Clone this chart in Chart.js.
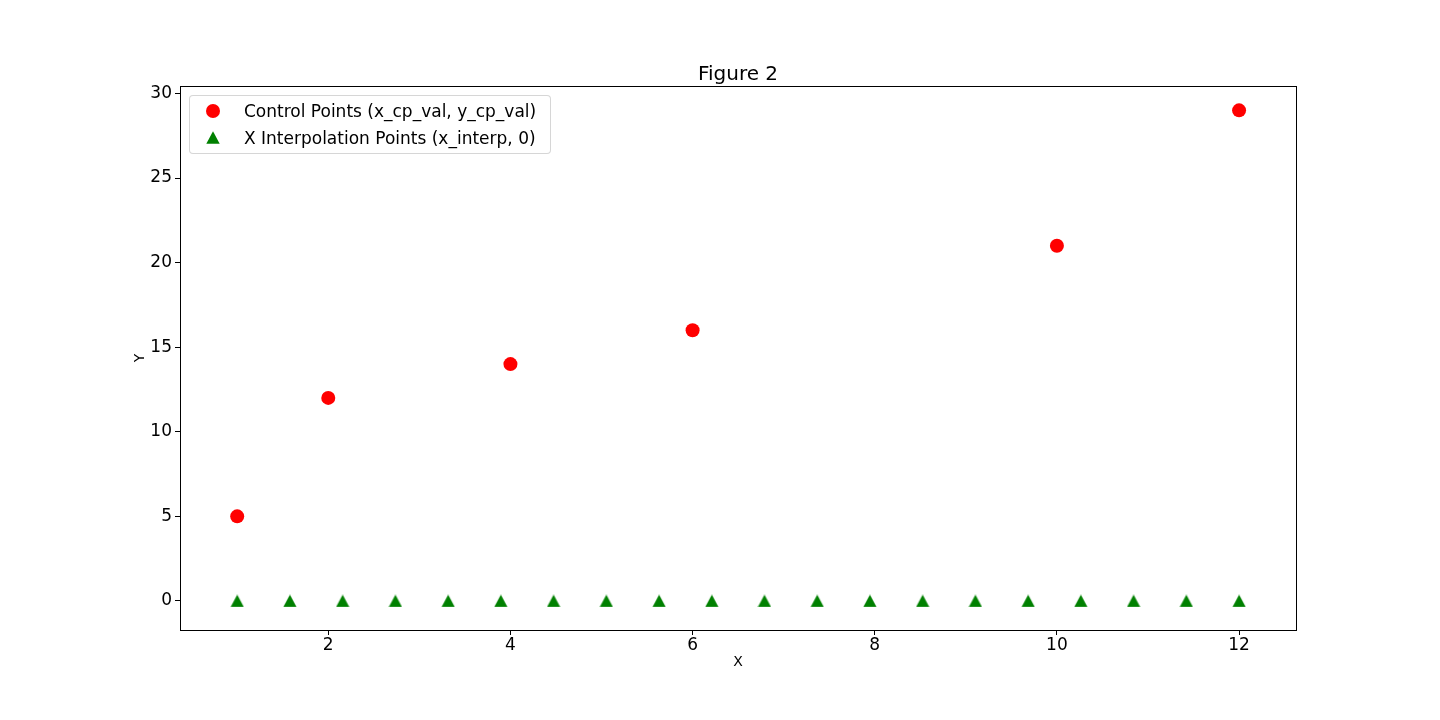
<!doctype html>
<html lang="en">
<head>
<meta charset="UTF-8">
<title>Figure 2</title>
<script src="https://cdn.jsdelivr.net/npm/chart.js@4/dist/chart.umd.min.js"></script>
<style>
	body { margin: 0; background: #fff; font-family: "DejaVu Sans", sans-serif; }
	#holder { position: relative; width: 1440px; height: 720px; }
	#legend { position: absolute; left: 189px; top: 95px; width: 360px; height: 57px;
		border: 1px solid rgba(204,204,204,0.8); border-radius: 4px; background: rgba(255,255,255,0.8); }
	.lg-row { position: absolute; left: 0; height: 24px; line-height: 24px; font-size: 17px; color: #000; white-space: nowrap; }
	.lg-mark { position: absolute; left: 16px; top: 4px; width: 14px; height: 14px; }
	.lg-text { position: absolute; left: 54px; top: -1px; }
</style>
</head>
<body>
<div id="holder">
	<canvas id="chart-area" width="1440" height="720"></canvas>
	<div id="legend"></div>
</div>
<script>
// data
var cpX = [1, 2, 4, 6, 10, 12];
var cpY = [5, 12, 14, 16, 21, 29];
var interpX = [1, 1.579, 2.158, 2.737, 3.316, 3.895, 4.474, 5.053, 5.632, 6.211,
	6.789, 7.368, 7.947, 8.526, 9.105, 9.684, 10.263, 10.842, 11.421, 12];
var interpY = [0, 0, 0, 0, 0, 0, 0, 0, 0, 0, 0, 0, 0, 0, 0, 0, 0, 0, 0, 0];
var xTicks = [2, 4, 6, 8, 10, 12];
var yTicks = [0, 5, 10, 15, 20, 25, 30];
var seriesLabels = ['Control Points (x_cp_val, y_cp_val)', 'X Interpolation Points (x_interp, 0)'];

var FONT = '"DejaVu Sans", sans-serif';

// matplotlib style '^' marker, centred on its bounding box
function makeTriangle(color) {
	var c = document.createElement('canvas');
	c.width = 14; c.height = 13;
	var g = c.getContext('2d');
	g.fillStyle = color;
	g.beginPath();
	g.moveTo(7, 0.3);
	g.lineTo(13.7, 12.7);
	g.lineTo(0.3, 12.7);
	g.closePath();
	g.fill();
	return c;
}
var tri = makeTriangle('#008000');

function toPoints(xs, ys) {
	var out = [];
	for (var i = 0; i < xs.length; i++) out.push({ x: xs[i], y: ys[i] });
	return out;
}

var framePlugin = {
	id: 'frame',
	afterDraw: function (chart) {
		var ctx = chart.ctx, a = chart.chartArea;
		ctx.save();
		ctx.strokeStyle = '#000';
		ctx.lineWidth = 1;
		ctx.strokeRect(Math.round(a.left) + 0.5, Math.round(a.top) + 0.5,
			Math.round(a.right - a.left), Math.round(a.bottom - a.top));
		ctx.fillStyle = '#000';
		ctx.textAlign = 'center';
		ctx.textBaseline = 'alphabetic';
		ctx.font = '20px ' + FONT;
		ctx.fillText('Figure 2', (a.left + a.right) / 2, 79.5);
		ctx.textBaseline = 'middle';
		ctx.font = '14px ' + FONT;
		ctx.fillText('X', (a.left + a.right) / 2, 662);
		ctx.translate(140, (a.top + a.bottom) / 2);
		ctx.rotate(-Math.PI / 2);
		ctx.fillText('Y', 0, 0);
		ctx.restore();
	}
};

var config = {
	type: 'scatter',
	data: {
		datasets: [{
			label: seriesLabels[0],
			data: toPoints(cpX, cpY),
			pointStyle: 'circle',
			pointRadius: 7,
			backgroundColor: '#ff0000',
			borderWidth: 0
		}, {
			label: seriesLabels[1],
			data: toPoints(interpX, interpY),
			pointStyle: tri,
			pointRadius: 7,
			backgroundColor: '#008000',
			borderWidth: 0
		}]
	},
	options: {
		responsive: false,
		animation: false,
		events: [],
		layout: { padding: { top: 86, right: 144, left: 0, bottom: 0 } },
		plugins: { legend: { display: false }, tooltip: { enabled: false }, title: { display: false } },
		scales: {
			x: {
				type: 'linear', min: 0.372, max: 12.625,
				afterFit: function (s) { s.height = 90; },
				afterBuildTicks: function (s) { s.ticks = xTicks.map(function (v) { return { value: v }; }); },
				border: { display: false },
				grid: { drawOnChartArea: false, drawTicks: true, tickLength: 5, tickColor: '#000', color: '#000' },
				ticks: { color: '#000', font: { family: FONT, size: 17 }, padding: 0, maxRotation: 0,
					callback: function (v) { return String(v); } }
			},
			y: {
				type: 'linear', min: -1.72, max: 30.44,
				afterFit: function (s) { s.width = 180; },
				afterBuildTicks: function (s) { s.ticks = yTicks.map(function (v) { return { value: v }; }); },
				border: { display: false },
				grid: { drawOnChartArea: false, drawTicks: true, tickLength: 5, tickColor: '#000', color: '#000' },
				ticks: { color: '#000', font: { family: FONT, size: 17 }, padding: 3,
					callback: function (v) { return String(v); } }
			}
		}
	},
	plugins: [framePlugin]
};

var chart = new Chart(document.getElementById('chart-area').getContext('2d'), config);

// legend drawn inside the axes, upper left, like matplotlib
var legend = document.getElementById('legend');
chart.data.datasets.forEach(function (ds, i) {
	var row = document.createElement('div');
	row.className = 'lg-row';
	row.style.top = (4 + i * 27) + 'px';
	var mark;
	if (i === 0) {
		mark = document.createElement('div');
		mark.style.background = ds.backgroundColor;
		mark.style.borderRadius = '50%';
	} else {
		mark = document.createElement('img');
		mark.src = tri.toDataURL();
		mark.style.height = '13px';
	}
	mark.className = 'lg-mark';
	var txt = document.createElement('span');
	txt.className = 'lg-text';
	txt.textContent = ds.label;
	row.appendChild(mark);
	row.appendChild(txt);
	legend.appendChild(row);
});
</script>
</body>
</html>
